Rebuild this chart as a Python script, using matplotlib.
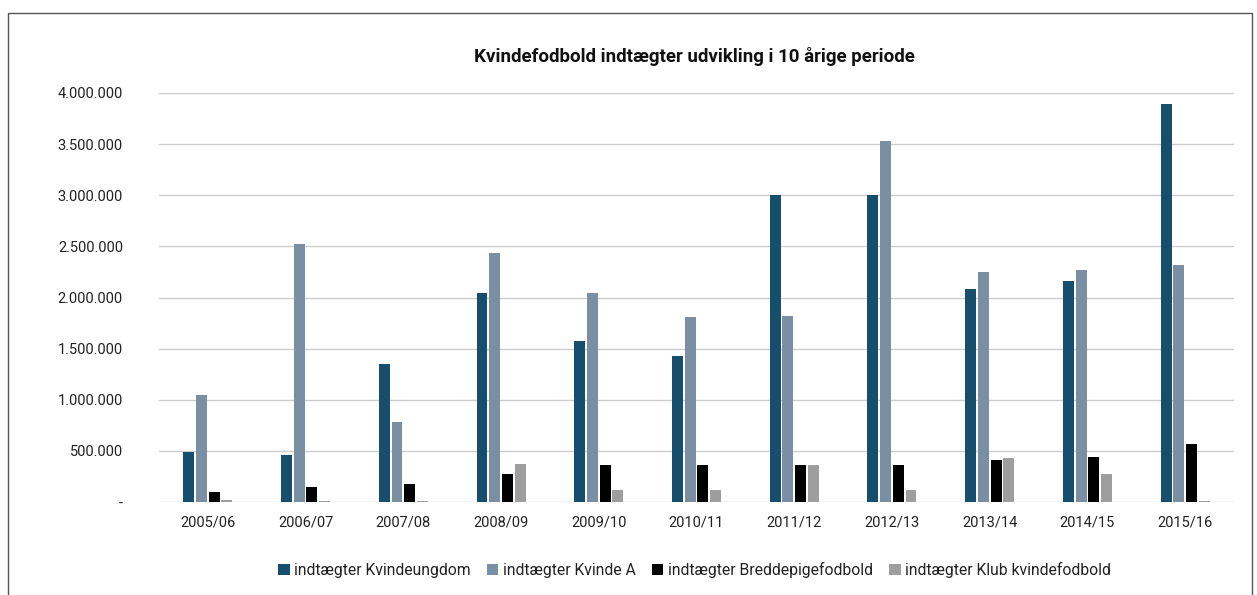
import numpy as np
import matplotlib.pyplot as plt
from matplotlib.patches import Rectangle
from matplotlib.ticker import FuncFormatter

plt.rcParams['font.family'] = ['Roboto', 'DejaVu Sans']

# data
seasons = ["2005/06", "2006/07", "2007/08", "2008/09", "2009/10", "2010/11",
           "2011/12", "2012/13", "2013/14", "2014/15", "2015/16"]
kvindeungdom = [490000, 460000, 1350000, 2040000, 1570000, 1430000,
                3005000, 3005000, 2085000, 2165000, 3895000]
kvinde_a = [1050000, 2525000, 785000, 2440000, 2040000, 1810000,
            1820000, 3535000, 2245000, 2270000, 2320000]
breddepige = [100000, 150000, 178000, 275000, 365000, 365000,
              365000, 365000, 415000, 443000, 570000]
klub = [20000, 10000, 10000, 375000, 120000, 120000,
        365000, 120000, 433000, 277000, 10000]

series = [kvindeungdom, kvinde_a, breddepige, klub]
names = ["indtægter Kvindeungdom", "indtægter Kvinde A",
         "indtægter Breddepigefodbold", "indtægter Klub kvindefodbold"]
colors = ["#174e6e", "#7a8fa3", "#000000", "#9e9e9e"]

fig = plt.figure(figsize=(12.57, 5.95), dpi=100)
ax = fig.add_axes([0.1265, 0.1563, 0.8552, 0.6874])

x = np.arange(len(seasons))
step = 0.13
for i, (vals, name, col) in enumerate(zip(series, names, colors)):
    ax.bar(x + (i - 1.5) * step, vals, width=0.112, color=col, label=name, zorder=3)

ax.set_xlim(-0.5, len(seasons) - 0.5)
ax.set_ylim(0, 4000000)
ax.set_yticks(np.arange(0, 4000001, 500000))


def fmt(v, pos):
    if v == 0:
        return "-"
    return f"{int(v):,}".replace(",", ".")


ax.yaxis.set_major_formatter(FuncFormatter(fmt))
ax.set_xticks(x)
ax.set_xticklabels(seasons)
ax.tick_params(axis='both', length=0, colors="#222222", labelsize=10.5)
ax.tick_params(axis='y', pad=26)
ax.tick_params(axis='x', pad=10)
ax.grid(axis='y', color="#cccccc", linewidth=1, zorder=0)
for s in ax.spines.values():
    s.set_visible(False)

fig.text(0.5525, 1 - 56 / 595, "Kvindefodbold indtægter udvikling i 10 årige periode",
         ha='center', va='center', fontsize=13.5, fontweight='bold', color="#111111")

fig.legend(loc='center', bbox_to_anchor=(0.5525, 1 - 570 / 595), ncol=4, frameon=False,
           fontsize=11.3, handlelength=0.75, handleheight=0.75, handletextpad=0.3,
           columnspacing=1.0, labelcolor="#222222")

# outer frame of the chart box
fig.patches.append(Rectangle((8 / 1257, -0.05), (1252 - 8) / 1257, 1.05 - 13 / 595,
                             transform=fig.transFigure, fill=False,
                             edgecolor="#555555", linewidth=1))

fig.savefig("out.png", dpi=100)
